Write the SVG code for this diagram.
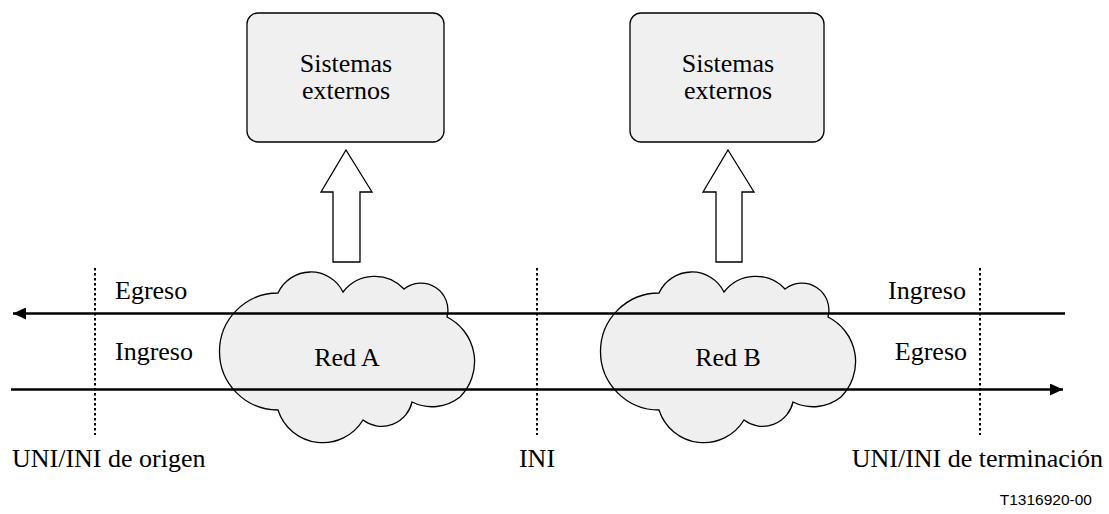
<svg xmlns="http://www.w3.org/2000/svg" width="1109" height="514" viewBox="0 0 1109 514">
<style>
.t{font-family:"Liberation Serif","Times New Roman",serif;font-size:26px;fill:#000}
.box{fill:#f0f0f0;stroke:#000;stroke-width:1.3}
.cloud{fill:#efefef;stroke:#000;stroke-width:1.3}
.blk{fill:#fff;stroke:#000;stroke-width:1.3}
.ln{stroke:#000;stroke-width:2.6;fill:none}
.dot{stroke:#000;stroke-width:2;stroke-dasharray:2.5 2.5;fill:none}
</style>
<defs>
<marker id="ah" markerUnits="userSpaceOnUse" markerWidth="14" markerHeight="12" refX="13" refY="6" orient="auto">
<path d="M0,0 L13,6 L0,12 Z" fill="#000"/>
</marker>
<path id="cl" d="M278,293 A36,36 0 0 1 343,292 A40,40 0 0 1 404,289 A27,27 0 0 1 447,317 A50,50 0 0 1 460,397 A45,45 0 0 1 412,402 A31,31 0 0 1 363,420 A47,47 0 0 1 278,410 A58.5,58.5 0 0 1 278,293 Z"/>
</defs>
<g id="sysA">
<rect class="box" x="247" y="13" width="197" height="129" rx="11"/>
<text class="t" x="346" y="72" text-anchor="middle">Sistemas</text>
<text class="t" x="346" y="99" text-anchor="middle">externos</text>
</g>
<g id="sysB">
<rect class="box" x="630" y="13" width="194" height="129" rx="11"/>
<text class="t" x="728" y="72" text-anchor="middle">Sistemas</text>
<text class="t" x="728" y="99" text-anchor="middle">externos</text>
</g>
<g id="redA">
<use href="#cl" class="cloud"/>
</g>
<g id="redB">
<use href="#cl" class="cloud" transform="translate(381,0)"/>
</g>
<g id="connectors">
<path class="blk" d="M346,150 L372,192 L360,192 L360,262 L333,262 L333,192 L321,192 Z"/>
<path class="blk" d="M728,150 L754,192 L742,192 L742,262 L716,262 L716,192 L703,192 Z"/>
<line class="ln" x1="1065" y1="313.5" x2="13" y2="313.5" marker-end="url(#ah)"/>
<line class="ln" x1="11" y1="389.5" x2="1063" y2="389.5" marker-end="url(#ah)"/>
<line class="dot" x1="95" y1="268" x2="95" y2="435"/>
<line class="dot" x1="537" y1="268" x2="537" y2="435"/>
<line class="dot" x1="980" y1="268" x2="980" y2="435"/>
</g>
<g id="labels">
<text class="t" x="347" y="366" text-anchor="middle">Red A</text>
<text class="t" x="728" y="366" text-anchor="middle">Red B</text>
<text class="t" x="115" y="299">Egreso</text>
<text class="t" x="115" y="360">Ingreso</text>
<text class="t" x="966" y="299" text-anchor="end">Ingreso</text>
<text class="t" x="967" y="360" text-anchor="end">Egreso</text>
<text class="t" x="12" y="467">UNI/INI de origen</text>
<text class="t" x="537" y="467" text-anchor="middle">INI</text>
<text class="t" x="1103" y="467" text-anchor="end">UNI/INI de terminación</text>
<text x="1092" y="505" text-anchor="end" style="font-family:'Liberation Sans',Arial,sans-serif;font-size:15.5px">T1316920-00</text>
</g>
</svg>
